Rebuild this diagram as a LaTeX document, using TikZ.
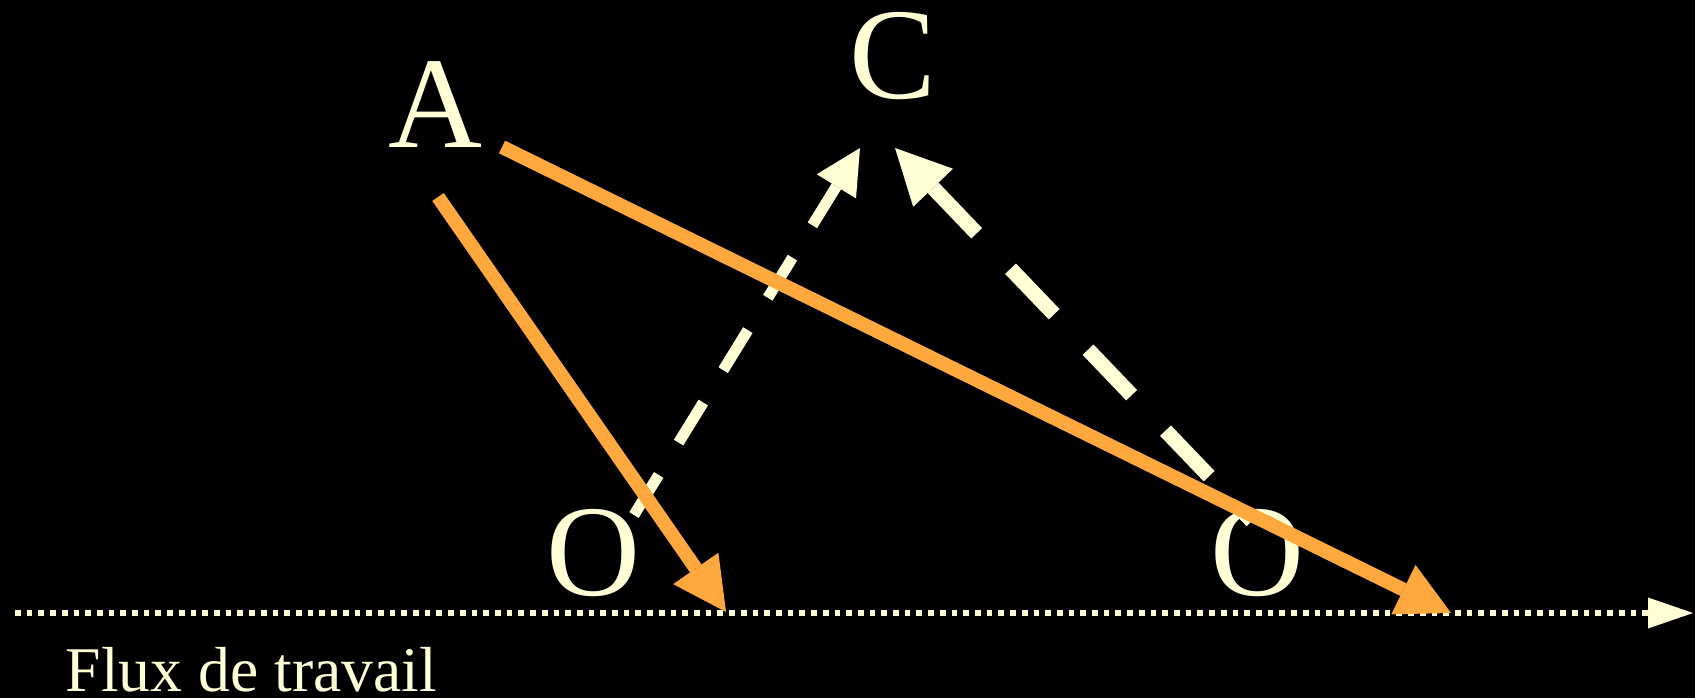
\documentclass[tikz,border=0pt]{standalone}
\usepackage{fontspec}
\setmainfont{Liberation Serif}
\usetikzlibrary{arrows.meta}

\definecolor{cream}{RGB}{255,255,214}
\definecolor{flame}{RGB}{255,168,62}

\begin{document}
\begin{tikzpicture}[
    x=0.01cm, y=-0.01cm,
    letter/.style={text=cream, font=\fontsize{37}{40}\selectfont, anchor=base, inner sep=0pt},
    caption/.style={text=cream, font=\fontsize{18.1}{20}\selectfont, anchor=base west, inner sep=0pt},
    work/.style={draw=flame, line width=0.14cm, -{Triangle[length=0.53cm, width=0.55cm, line width=0pt]}},
    link/.style={draw=cream, line width=0.11cm, dash pattern=on 0.47cm off 0.38cm,
        -{Triangle[length=0.45cm, width=0.46cm, line width=0pt]}},
    thicklink/.style={draw=cream, line width=0.15cm, dash pattern=on 0.63cm off 0.49cm, dash phase=0.50cm,
        -{Triangle[length=0.55cm, width=0.55cm, line width=0pt]}},
    timeline/.style={draw=cream, line width=0.056cm, dash pattern=on 0.057cm off 0.06cm,
        -{Triangle[length=0.45cm, width=0.31cm, line width=0pt]}}
]
\fill[black] (0,0) rectangle (1695,698);
\useasboundingbox (0,0) rectangle (1695,698);

% labels
\node[letter] (a) at (435,148) {A};
\node[letter] (c) at (893,99) {C};
\node[letter] (o1) at (593,596) {O};
\node[letter] (o2) at (1257,596) {O};
\node[caption] (flux) at (65,691) {Flux de travail};

% end points
\coordinate (t0) at (15,613);
\coordinate (t1) at (1693,613);
\coordinate (a1) at (438,197);
\coordinate (a2) at (502,147);
\coordinate (w1) at (726,612);
\coordinate (w2) at (1451,613);
\coordinate (o1c) at (634,515);
\coordinate (o2c) at (1252,521);
\coordinate (c1) at (860,148);
\coordinate (c2) at (895,148);

% time axis
\draw[timeline] (t0) -- (t1);

% links to C
\draw[link] (o1c) -- (c1);
\draw[thicklink] (o2c) -- (c2);

% work from A
\draw[work] (a1) -- (w1);
\draw[work] (a2) -- (w2);
\end{tikzpicture}
\end{document}
